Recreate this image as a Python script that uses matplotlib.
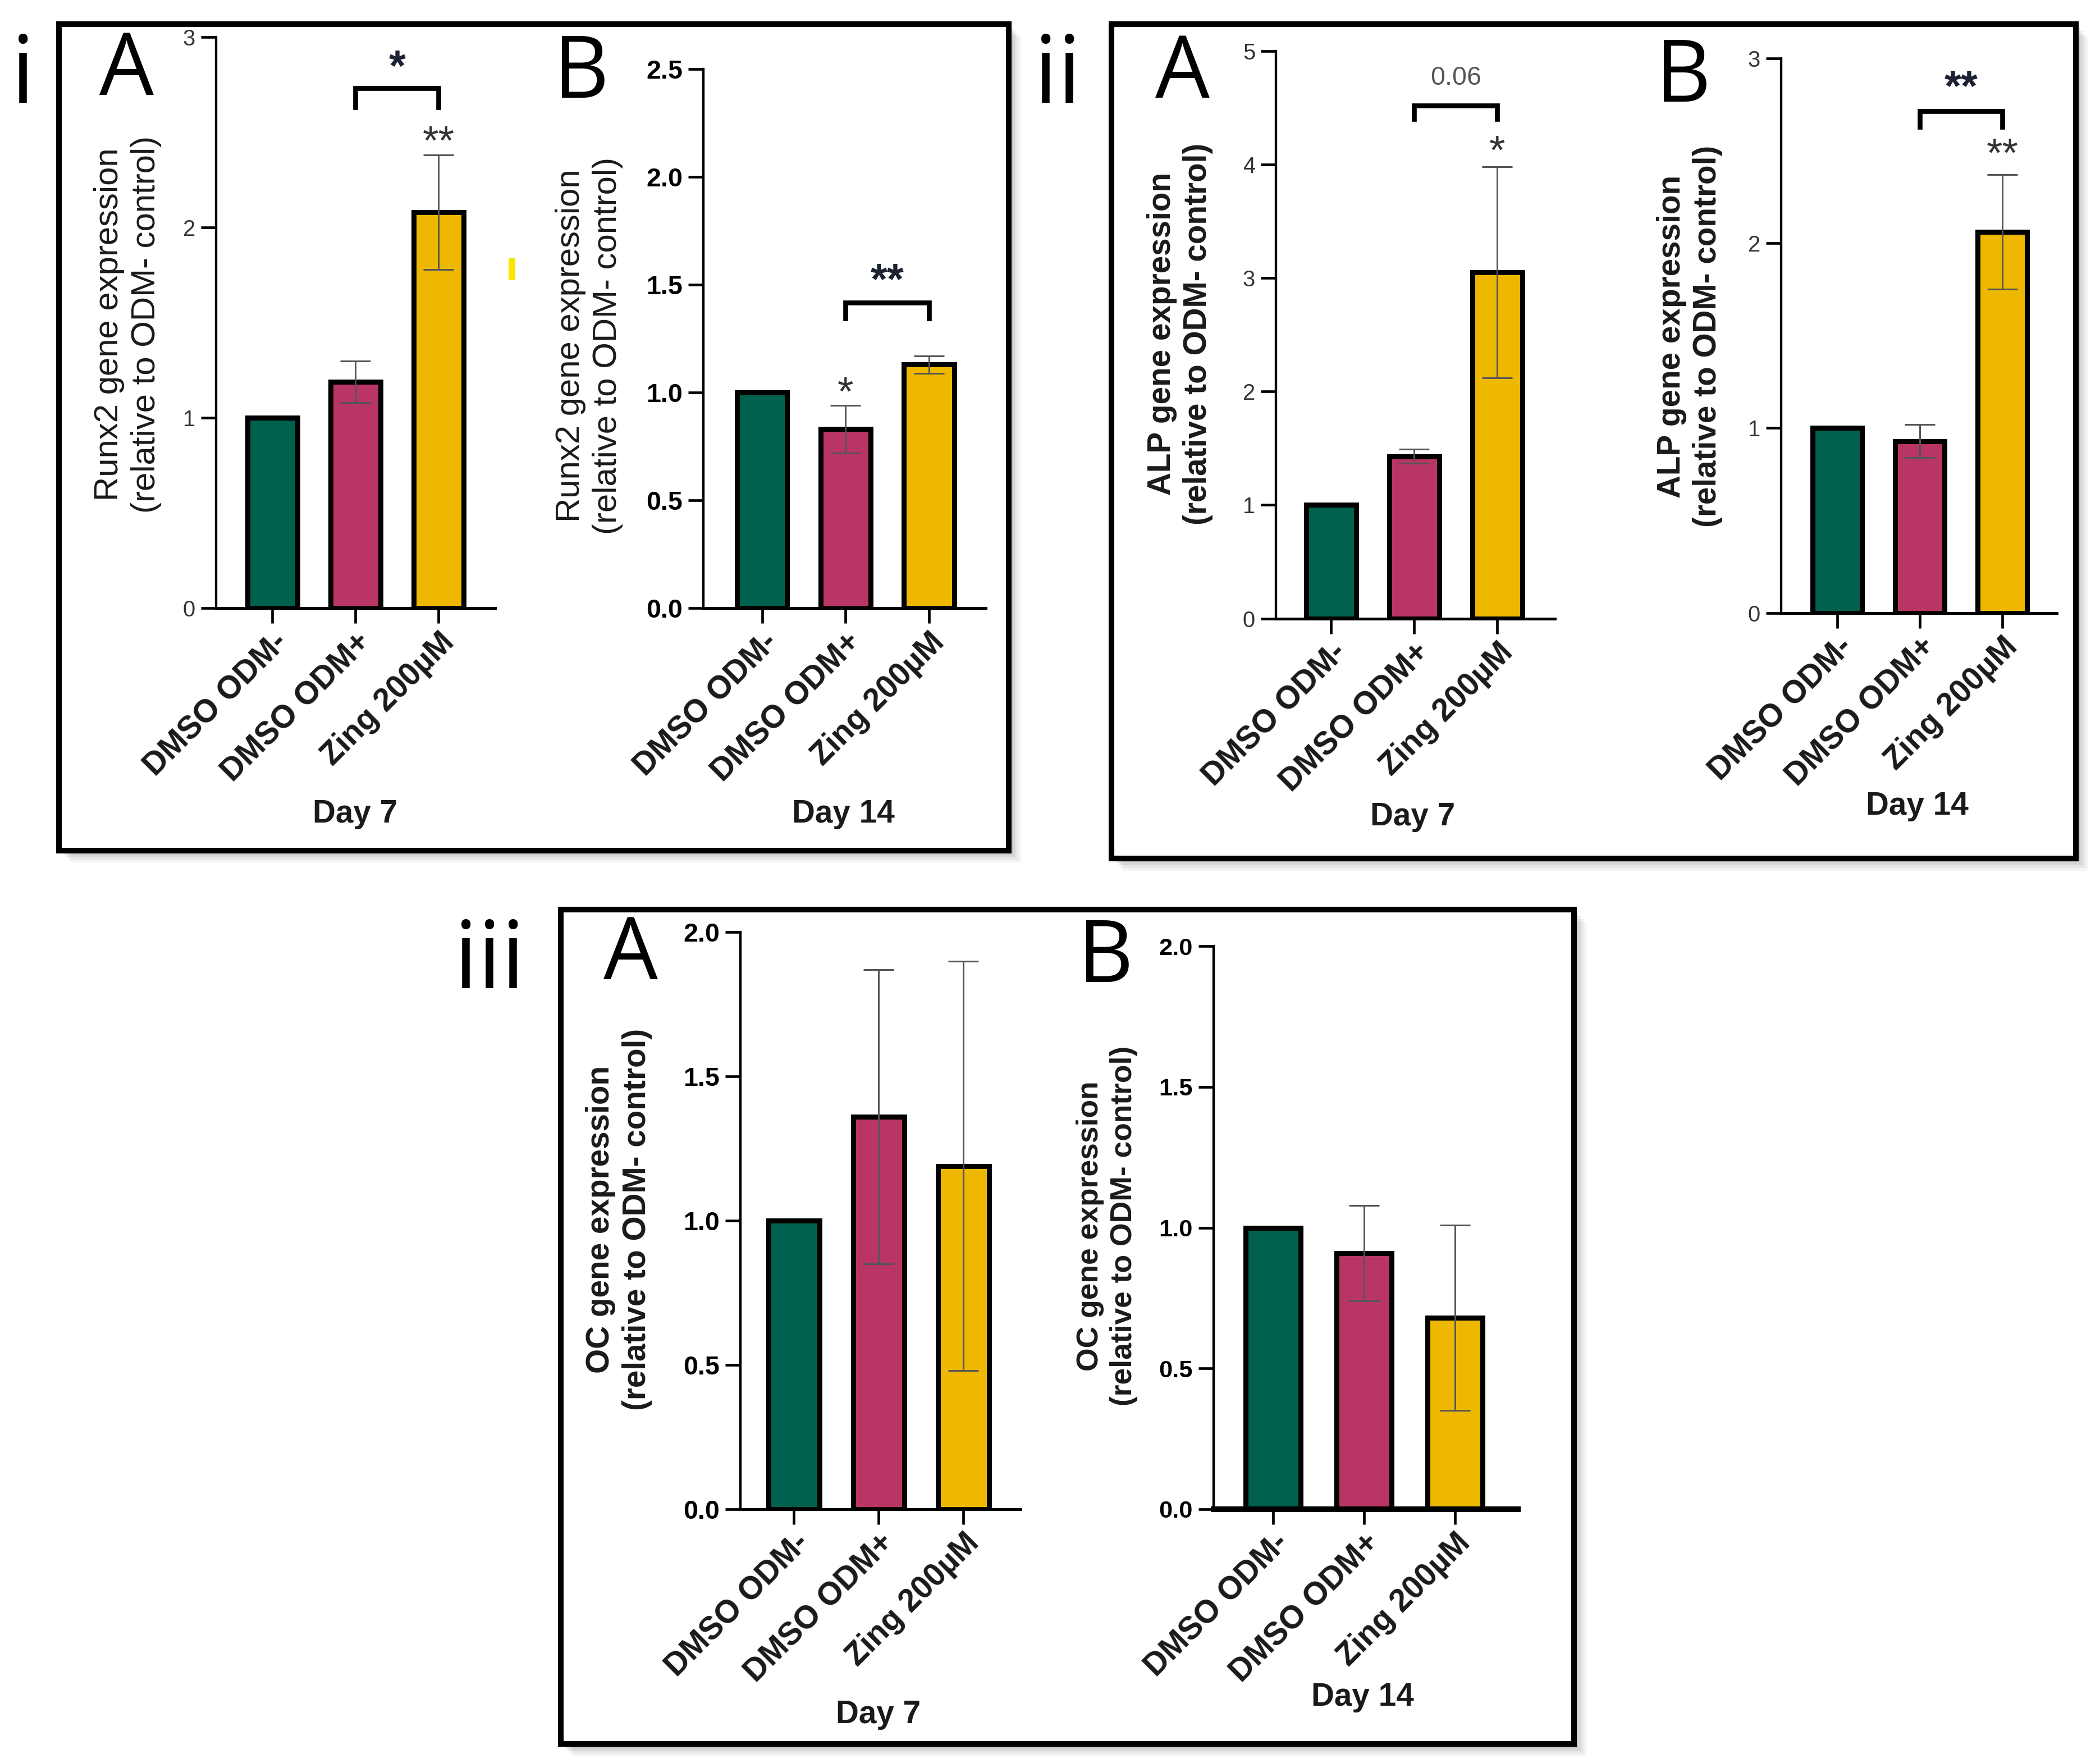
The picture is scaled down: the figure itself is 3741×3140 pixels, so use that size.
import matplotlib
matplotlib.use('Agg')
import matplotlib.pyplot as plt
from matplotlib.patches import Rectangle

# layout frame (reference drawn at 1561 x 1310 units)
W, H = 1561.0, 1310.0
PT = 3741 / W / 240 * 72   # points per layout unit

plt.rcParams['font.family'] = ['Liberation Sans', 'DejaVu Sans']

groups = ['DMSO ODM-', 'DMSO ODM+', 'Zing 200µM']
colors = ['#00614f', '#b83566', '#eeb800']

runx2_d7 = [1.00, 1.19, 2.08]
runx2_d7_err = [0.0, 0.11, 0.30]
runx2_d14 = [1.00, 0.83, 1.13]
runx2_d14_err = [0.0, 0.11, 0.04]
alp_d7 = [1.00, 1.43, 3.05]
alp_d7_err = [0.0, 0.06, 0.93]
alp_d14 = [1.00, 0.93, 2.06]
alp_d14_err = [0.0, 0.09, 0.31]
oc_d7 = [1.00, 1.36, 1.19]
oc_d7_err = [0.0, 0.51, 0.71]
oc_d14 = [1.00, 0.91, 0.68]
oc_d14_err = [0.0, 0.17, 0.33]

days = ['Day 7', 'Day 14']

fig = plt.figure(figsize=(3741 / 240, 3140 / 240), dpi=240)
fig.patch.set_facecolor('white')


def fx(x):
    return x / W


def fy(y):
    return 1 - y / H


def draw_box(x0, y0, x1, y1):
    # soft drop shadow
    for k, a in [(9, 0.06), (7, 0.08), (5, 0.10), (3, 0.12)]:
        fig.patches.append(Rectangle((fx(x0 + k), fy(y1 + k)), fx(x1 - x0), (y1 - y0) / H,
                                     transform=fig.transFigure, facecolor='#505050',
                                     edgecolor='none', alpha=a, zorder=-3))
    fig.patches.append(Rectangle((fx(x0), fy(y1)), fx(x1 - x0), (y1 - y0) / H,
                                 transform=fig.transFigure, facecolor='white',
                                 edgecolor='black', linewidth=4.2 * PT, zorder=-2))


def bar_panel(left, right, bottom, top, ymax, t0, sp, vals, errs, yticks, ylab,
              day, day_xy, ylab_xy, bold, tick_fs, lab_fs=17, xspine=1.5):
    ax = fig.add_axes([fx(left), fy(bottom), fx(right - left), (bottom - top) / H])
    ax.set_facecolor('none')
    x = range(len(groups))
    ax.bar(x, vals, width=0.6, color=colors, edgecolor='black', linewidth=2.7, zorder=2)
    ex = [i for i in x if errs[i] > 0]
    ax.errorbar(ex, [vals[i] for i in ex], yerr=[errs[i] for i in ex], fmt='none',
                ecolor='#555555', elinewidth=0.9, capsize=8, capthick=0.9, zorder=3)
    ax.set_xlim((left - t0) / sp, (right - t0) / sp)
    ax.set_ylim(0, ymax)
    ax.set_yticks(yticks)
    if isinstance(yticks[1], float):
        ax.set_yticklabels(['%.1f' % t for t in yticks])
    else:
        ax.set_yticklabels(['%d' % t for t in yticks])
    for s in ['top', 'right']:
        ax.spines[s].set_visible(False)
    ax.spines['left'].set_linewidth(1.3)
    ax.spines['bottom'].set_linewidth(xspine)
    ax.tick_params(axis='both', length=8, width=1.4, direction='out')
    ax.tick_params(axis='y', pad=3)
    for lbl in ax.get_yticklabels():
        lbl.set_fontsize(tick_fs)
        if bold:
            lbl.set_fontweight('bold')
        else:
            lbl.set_color('#333333')
    ax.set_xticks(list(x))
    ax.set_xticklabels(groups, rotation=45, ha='right', va='top', rotation_mode='anchor',
                       fontsize=17, fontweight='bold', color='#1a1a1a')
    ax.tick_params(axis='x', pad=2)
    fig.text(fx(ylab_xy[0]), fy(ylab_xy[1]), ylab, rotation=90, ha='center', va='center',
             fontsize=lab_fs, fontweight='bold' if bold else 'normal', linespacing=1.25,
             multialignment='center', color='#1a1a1a')
    fig.text(fx(day_xy[0]), fy(day_xy[1]), day, ha='center', va='center',
             fontsize=17, fontweight='bold', color='#1a1a1a')
    return ax


def bracket(ax, y, drop, label, ty, color='#1c2233', fs=23, weight='bold'):
    ax.plot([1, 1, 2, 2], [y - drop, y, y, y - drop], color='black', lw=2.6,
            clip_on=False, solid_joinstyle='miter', zorder=4)
    ax.text(1.5, ty, label, ha='center', va='center', fontsize=fs, fontweight=weight,
            color=color, clip_on=False, zorder=4)


def star(ax, xi, ty, label):
    ax.text(xi, ty, label, ha='center', va='center', fontsize=22,
            color='#333333', clip_on=False, zorder=4)


# boxes
draw_box(44, 18, 750, 632)
draw_box(826, 18, 1543, 638)
draw_box(417, 676, 1170, 1296)

# stray yellow mark in panel i
fig.patches.append(Rectangle((fx(378), fy(208)), fx(5), 16 / H, transform=fig.transFigure,
                             facecolor='#f7e600', edgecolor='none', zorder=-1))

runx2_lab = 'Runx2 gene expression\n(relative to ODM- control)'
alp_lab = 'ALP gene expression\n(relative to ODM- control)'
oc_lab = 'OC gene expression\n(relative to ODM- control)'

axA = bar_panel(160.5, 368, 452, 27.5, 3, 202.5, 61.75, runx2_d7, runx2_d7_err,
                [0, 1, 2, 3], runx2_lab, days[0], (264, 605), (95, 241), False, 12, lab_fs=18)
bracket(axA, 2.73, 0.10, '*', 2.83)
star(axA, 2, 2.44, '**')

axB = bar_panel(522.7, 732.6, 452, 51.2, 2.5, 566.6, 62, runx2_d14, runx2_d14_err,
                [0.0, 0.5, 1.0, 1.5, 2.0, 2.5], runx2_lab, days[1], (627, 605), (438, 257),
                False, 14, lab_fs=18)
for lbl in axB.get_yticklabels():
    lbl.set_fontweight('bold')
    lbl.set_color('black')
bracket(axB, 1.417, 0.072, '**', 1.51)
star(axB, 1, 0.99, '*')

axC = bar_panel(948.4, 1156, 459.6, 37.9, 5, 989.4, 61.8, alp_d7, alp_d7_err,
                [0, 1, 2, 3, 4, 5], alp_lab, days[0], (1050, 607), (877, 248), True, 12)
for lbl in axC.get_yticklabels():
    lbl.set_fontweight('normal')
    lbl.set_color('#333333')
bracket(axC, 4.52, 0.12, '0.06', 4.76, color='#555555', fs=14, weight='normal')
star(axC, 2, 4.10, '*')

axD = bar_panel(1323.9, 1528.9, 455.5, 43.3, 3, 1365.8, 61.3, alp_d14, alp_d14_err,
                [0, 1, 2, 3], alp_lab, days[1], (1425, 599), (1256, 250), True, 12)
for lbl in axD.get_yticklabels():
    lbl.set_fontweight('normal')
    lbl.set_color('#333333')
bracket(axD, 2.715, 0.085, '**', 2.83)
star(axD, 2, 2.47, '**')

axE = bar_panel(550.2, 758.4, 1121.4, 692.7, 2.0, 590.2, 63, oc_d7, oc_d7_err,
                [0.0, 0.5, 1.0, 1.5, 2.0], oc_lab, days[0], (653, 1274), (460, 906), True, 14)

axF = bar_panel(902, 1128.3, 1121.4, 703.1, 2.0, 946.4, 67.6, oc_d14, oc_d14_err,
                [0.0, 0.5, 1.0, 1.5, 2.0], oc_lab, days[1], (1013, 1261), (823, 911), True, 13,
                lab_fs=16, xspine=3.0)

# panel labels
for txt, x, y, fs in [('i', 17, 58, 50), ('ii', 786, 58, 50), ('iii', 364, 716, 50),
                      ('A', 94, 54, 46), ('B', 432, 56, 46), ('A', 879, 56, 46),
                      ('B', 1251, 59, 46), ('A', 469, 711, 46), ('B', 822, 713, 46)]:
    fig.text(fx(x), fy(y), txt, ha='center', va='center', fontsize=fs,
             family=['Open Sans', 'DejaVu Sans'], color='black')

fig.savefig('out.png', dpi=240)
